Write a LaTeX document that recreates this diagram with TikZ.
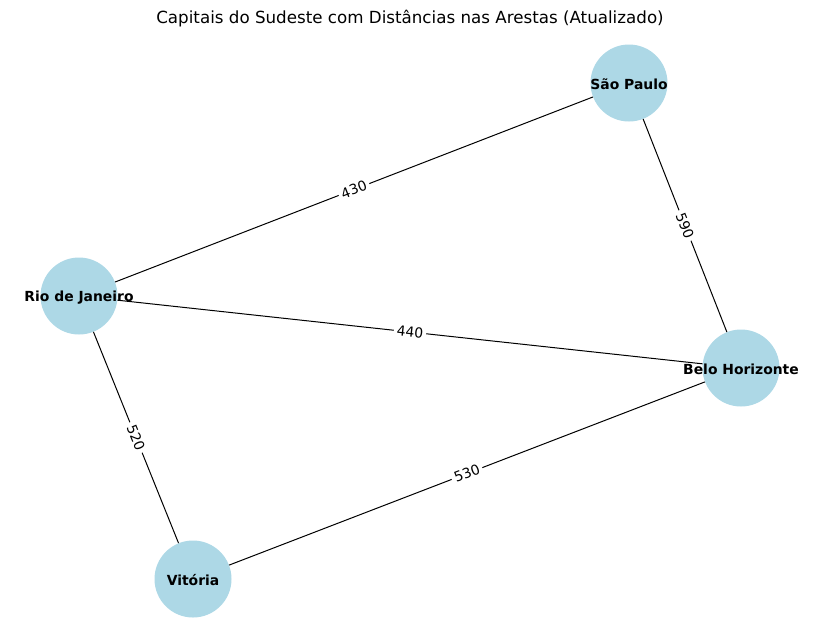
\documentclass[tikz,border=0pt]{standalone}
\usepackage{fontspec}
\setmainfont{DejaVu Sans}
\usepackage{tikz}
\usetikzlibrary{calc}
\definecolor{cityblue}{HTML}{ADD8E6}

\begin{document}
\begin{tikzpicture}[x=1pt, y=-1pt,
	city/.style={circle, fill=cityblue, minimum size=77pt, inner sep=0pt},
	citylabel/.style={font=\fontsize{13.9}{16}\selectfont\bfseries, yshift=-1.5pt},
	dist/.style={sloped, fill=white, inner sep=3pt, font=\fontsize{13.9}{16}\selectfont}]
	\useasboundingbox (0,0) rectangle (819,641);
	\node (title) at (410,19) {\fontsize{16.7}{20}\selectfont Capitais do Sudeste com Distâncias nas Arestas (Atualizado)};
	\node [city, label={[citylabel]center:São Paulo}] (sp) at (629,83) {};
	\node [city, label={[citylabel]center:Rio de Janeiro}] (rj) at (79,296) {};
	\node [city, label={[citylabel]center:Belo Horizonte}] (bh) at (741,368) {};
	\node [city, label={[citylabel]center:Vitória}] (vit) at (193,579) {};
	\draw [line width=1pt] (rj) -- node [dist] {430} (sp);
	\draw [line width=1pt] (sp) -- node [dist] {590} (bh);
	\draw [line width=1pt] (rj) -- node [dist] {440} (bh);
	\draw [line width=1pt] (rj) -- node [dist] {520} (vit);
	\draw [line width=1pt] (vit) -- node [dist] {530} (bh);
\end{tikzpicture}
\end{document}
